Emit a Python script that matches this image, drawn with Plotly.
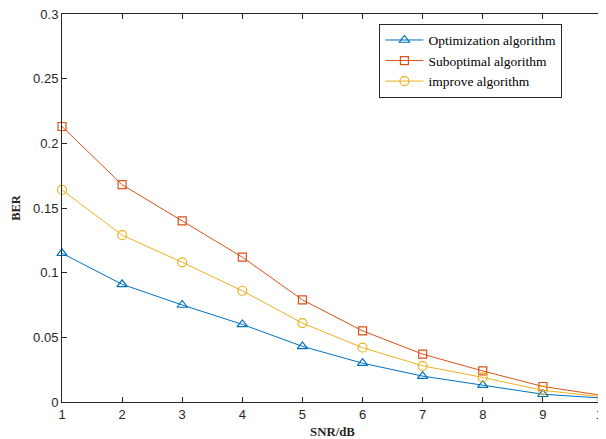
import plotly.graph_objects as go

snr = [1, 2, 3, 4, 5, 6, 7, 8, 9, 10]
ber_opt = [0.115, 0.091, 0.075, 0.060, 0.043, 0.030, 0.020, 0.013, 0.006, 0.003]
ber_sub = [0.213, 0.168, 0.140, 0.112, 0.079, 0.055, 0.037, 0.024, 0.012, 0.005]
ber_imp = [0.164, 0.129, 0.108, 0.086, 0.061, 0.042, 0.028, 0.019, 0.009, 0.004]
names = ["Optimization algorithm", "Suboptimal algorithm", "improve algorithm"]
x_ticks = [1, 2, 3, 4, 5, 6, 7, 8, 9, 10]
y_ticks = [0, 0.05, 0.1, 0.15, 0.2, 0.25, 0.3]
y_tick_text = ["0", "0.05", "0.1", "0.15", "0.2", "0.25", "0.3"]

colors = ["#0072BD", "#D95319", "#EDB120"]
symbols = ["triangle-up-open", "square-open", "circle-open"]
sizes = [9, 8, 9]

fig = go.Figure()
for ys, nm, c, s, sz in zip([ber_opt, ber_sub, ber_imp], names, colors, symbols, sizes):
    fig.add_trace(go.Scatter(
        x=snr, y=ys, name=nm, mode="lines+markers",
        line=dict(color=c, width=1),
        marker=dict(symbol=s, size=sz, color=c, line=dict(width=1.2, color=c)),
        cliponaxis=False,
    ))

axis_common = dict(
    showline=True, linecolor="#262626", linewidth=1, mirror="ticks",
    ticks="inside", ticklen=5, tickcolor="#262626", showgrid=False, zeroline=False,
    automargin=False, ticklabeloverflow="allow",
    tickfont=dict(family="Liberation Sans, Arial, sans-serif", size=13, color="#262626"),
)

# The page body has an 8px default margin, so the figure is sized 8px smaller
fig.update_layout(
    template="none",
    width=598, height=431,
    margin=dict(l=54, r=3, t=6, b=37),
    paper_bgcolor="white", plot_bgcolor="white",
    showlegend=True,
    legend=dict(
        x=0.925, y=0.975, xanchor="right", yanchor="top",
        bordercolor="#262626", borderwidth=1, bgcolor="white",
        font=dict(family="Liberation Serif, Times New Roman, serif", size=13.5, color="black"),
        tracegroupgap=0, itemwidth=38,
    ),
    xaxis=dict(
        range=[1, 10], tickvals=x_ticks,
        title=dict(text="<b>SNR/dB</b>", standoff=7,
                   font=dict(family="Liberation Serif, Times New Roman, serif", size=12.8, color="#262626")),
        **axis_common,
    ),
    yaxis=dict(
        range=[0, 0.3], tickvals=y_ticks, ticktext=y_tick_text,
        title=dict(text="<b>BER</b>", standoff=9,
                   font=dict(family="Liberation Serif, Times New Roman, serif", size=12.5, color="#262626")),
        **axis_common,
    ),
)

fig.write_html("out.html")
